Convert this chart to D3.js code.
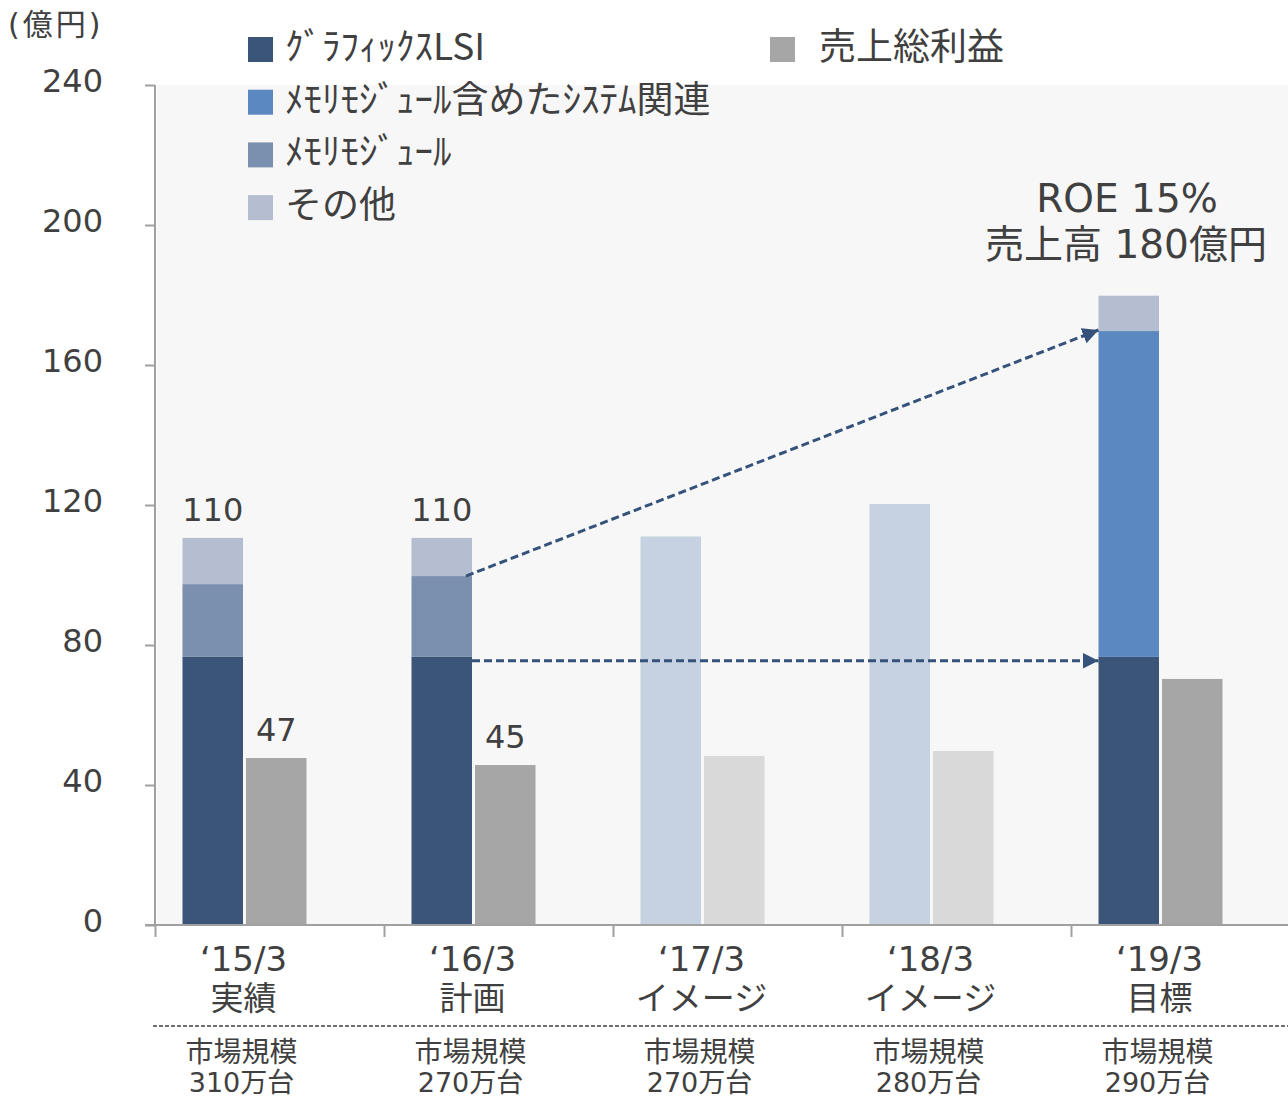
<!DOCTYPE html>
<html><head><meta charset="utf-8">
<script src="https://cdn.jsdelivr.net/npm/d3@7"></script>
<style>
html,body{margin:0;padding:0;background:#fff;}
text{font-family:"DejaVu Sans","Noto Sans CJK JP",sans-serif;fill:#404040;}
</style></head>
<body><svg id="c" width="1288" height="1098"></svg>
<script>
// ---- data ----
const categories   = ["‘15/3", "‘16/3", "‘17/3", "‘18/3", "‘19/3"];
const subLabels    = ["実績", "計画", "イメージ", "イメージ", "目標"];
const marketTitle  = ["市場規模", "市場規模", "市場規模", "市場規模", "市場規模"];
const marketSize   = ["310万台", "270万台", "270万台", "280万台", "290万台"];
const graphicsLSI  = [76.6, 76.6, 0, 0, 76.6];
const systems      = [0, 0, 0, 0, 93.1];
const memoryModule = [20.8, 23.1, 0, 0, 0];
const others       = [13.2, 10.9, 0, 0, 10.1];
const imageSales   = [0, 0, 111.0, 120.3, 0];
const grossProfit  = [47.7, 45.7, 48.3, 49.7, 70.3];
const salesLabels  = ["110", "110", "", "", ""];
const grossLabels  = ["47", "45", "", "", ""];
const yTicks       = [0, 40, 80, 120, 160, 200, 240];
const seriesNames  = ["ｸﾞﾗﾌｨｯｸｽLSI", "ﾒﾓﾘﾓｼﾞｭｰﾙ含めたｼｽﾃﾑ関連", "ﾒﾓﾘﾓｼﾞｭｰﾙ", "その他"];
const grossName    = "売上総利益";
const unitLabel    = "(億円)";
const noteLines    = ["ROE 15%", "売上高 180億円"];
// arrows: [category, value] -> [category, value]
const arrowFrom    = [["‘16/3", 99.7], ["‘16/3", 75.5]];
const arrowTo      = [["‘19/3", 170.0], ["‘19/3", 75.5]];

// ---- layout ----
const svg = d3.select("#c");
const W = 1288, H = 1098;
const plotLeft = 155, plotTop = 85, plotBottom = 925;
const bandW = 229;
const x = d3.scaleBand().domain(categories).range([plotLeft, plotLeft + bandW * categories.length]).padding(0);
const y = d3.scaleLinear().domain([0, 240]).range([plotBottom, plotTop]);
const barOff1 = 27.5, barOff2 = 91, barW = 60.5;

const colors = ["#3a5577", "#5b88c0", "#7b90ae", "#b4bed0"];
const grossColor = "#a6a6a6", imageColor = "#c6d2e1", imageGrossColor = "#d9d9d9";
const arrowColor = "#34527a";

// plot background
svg.append("rect").attr("x", plotLeft + 2).attr("y", plotTop).attr("width", W - plotLeft - 2).attr("height", plotBottom - plotTop).attr("fill", "#f7f7f7");

// stacked bars
const rows = categories.map((c, i) => ({cat: c, lsi: graphicsLSI[i], sys: systems[i], mem: memoryModule[i], oth: others[i]}));
const keys = ["lsi", "sys", "mem", "oth"];
const stack = d3.stack().keys(keys)(rows);
stack.forEach((s, k) => {
  svg.append("g").selectAll("rect").data(s.filter(d => d[1] - d[0] > 0)).join("rect")
    .attr("x", d => x(d.data.cat) + barOff1)
    .attr("width", barW)
    .attr("y", d => y(d[1]))
    .attr("height", d => y(d[0]) - y(d[1]))
    .attr("fill", colors[k]);
});
// image bars
svg.append("g").selectAll("rect").data(categories.map((c, i) => ({c, v: imageSales[i]})).filter(d => d.v > 0)).join("rect")
  .attr("x", d => x(d.c) + barOff1).attr("width", barW)
  .attr("y", d => y(d.v)).attr("height", d => y(0) - y(d.v)).attr("fill", imageColor);
// gross profit bars
svg.append("g").selectAll("rect").data(categories.map((c, i) => ({c, v: grossProfit[i], img: imageSales[i] > 0}))).join("rect")
  .attr("x", d => x(d.c) + barOff2).attr("width", barW)
  .attr("y", d => y(d.v)).attr("height", d => y(0) - y(d.v))
  .attr("fill", d => d.img ? imageGrossColor : grossColor);

// value labels
categories.forEach((c, i) => {
  const total = graphicsLSI[i] + systems[i] + memoryModule[i] + others[i];
  if (salesLabels[i]) svg.append("text").attr("x", x(c) + barOff1 + barW / 2).attr("y", y(total) - 17)
    .attr("text-anchor", "middle").attr("font-size", 32).text(salesLabels[i]);
  if (grossLabels[i]) svg.append("text").attr("x", x(c) + barOff2 + barW / 2).attr("y", y(grossProfit[i]) - 17)
    .attr("text-anchor", "middle").attr("font-size", 32).text(grossLabels[i]);
});

// arrows
const defs = svg.append("defs");
defs.append("marker").attr("id", "ah").attr("viewBox", "0 0 10 10").attr("refX", 10).attr("refY", 5)
  .attr("markerWidth", 16).attr("markerHeight", 16).attr("markerUnits", "userSpaceOnUse").attr("orient", "auto")
  .append("path").attr("d", "M0,0 L10,5 L0,10 Z").attr("fill", arrowColor);
arrowFrom.forEach((f, i) => {
  const t = arrowTo[i];
  svg.append("line")
    .attr("x1", x(f[0]) + barOff1 + barW - (i === 0 ? 6 : 0)).attr("y1", y(f[1]))
    .attr("x2", x(t[0]) + barOff1).attr("y2", y(t[1]))
    .attr("stroke", arrowColor).attr("stroke-width", 3).attr("stroke-dasharray", "8,4")
    .attr("marker-end", "url(#ah)");
});

// axes
const yAxis = svg.append("g").attr("transform", `translate(${plotLeft},0)`)
  .call(d3.axisLeft(y).tickValues(yTicks).tickSize(10).tickPadding(42).tickFormat(d3.format("d")));
yAxis.select(".domain").attr("stroke", "#a0a0a0").attr("stroke-width", 2).attr("d", `M0,${plotTop}V${plotBottom}`);
yAxis.selectAll(".tick line").attr("stroke", "#a0a0a0").attr("stroke-width", 2);
yAxis.selectAll(".tick text").attr("font-size", 32).attr("fill", "#404040")
  .style("font-family", "'DejaVu Sans',sans-serif").attr("dy", "0.2em");

const xEdges = d3.scaleLinear().domain([0, categories.length]).range([plotLeft, plotLeft + bandW * categories.length]);
const xAxis = svg.append("g").attr("transform", `translate(0,${plotBottom})`)
  .call(d3.axisBottom(xEdges).tickValues(d3.range(0, categories.length)).tickSize(12).tickFormat(""));
xAxis.select(".domain").attr("stroke", "#a0a0a0").attr("stroke-width", 2).attr("d", `M${plotLeft - 10},0H${W}`);
xAxis.selectAll(".tick line").attr("stroke", "#a0a0a0").attr("stroke-width", 2);

// category labels
categories.forEach((c, i) => {
  const cx = x(c) + (barOff1 + barOff2 + barW) / 2;
  svg.append("text").attr("x", cx - 1).attr("y", 971).attr("text-anchor", "middle").attr("font-size", 34).text(c);
  svg.append("text").attr("x", cx - 1).attr("y", 1010).attr("text-anchor", "middle").attr("font-size", 33).text(subLabels[i]);
  svg.append("text").attr("x", cx - 3).attr("y", 1062).attr("text-anchor", "middle").attr("font-size", 28).text(marketTitle[i]);
  svg.append("text").attr("x", cx - 3).attr("y", 1092).attr("text-anchor", "middle").attr("font-size", 27).text(marketSize[i]);
});
svg.append("line").attr("x1", 153).attr("x2", W).attr("y1", 1026).attr("y2", 1026)
  .attr("stroke", "#404040").attr("stroke-width", 1.5).attr("stroke-dasharray", "4,2");

// unit label
svg.append("text").attr("x", 8).attr("y", 35).attr("font-size", 30).attr("letter-spacing", 3).text(unitLabel);

// legend
seriesNames.forEach((n, i) => {
  const yy = 37 + i * 52.7;
  svg.append("rect").attr("x", 248).attr("y", yy).attr("width", 25).attr("height", 25).attr("fill", colors[i]);
  svg.append("text").attr("x", 285).attr("y", yy + 23).attr("font-size", 37)
    .style("font-family", "'Noto Sans CJK JP','DejaVu Sans',sans-serif").text(n);
});
svg.append("rect").attr("x", 770).attr("y", 37).attr("width", 25).attr("height", 25).attr("fill", grossColor);
svg.append("text").attr("x", 819).attr("y", 60).attr("font-size", 37)
  .style("font-family", "'Noto Sans CJK JP',sans-serif").text(grossName);

// annotation
svg.append("text").attr("x", 1127).attr("y", 212).attr("text-anchor", "middle").attr("font-size", 39).text(noteLines[0]);
svg.append("text").attr("x", 1126).attr("y", 258).attr("text-anchor", "middle").attr("font-size", 39).text(noteLines[1]);
</script></body></html>
